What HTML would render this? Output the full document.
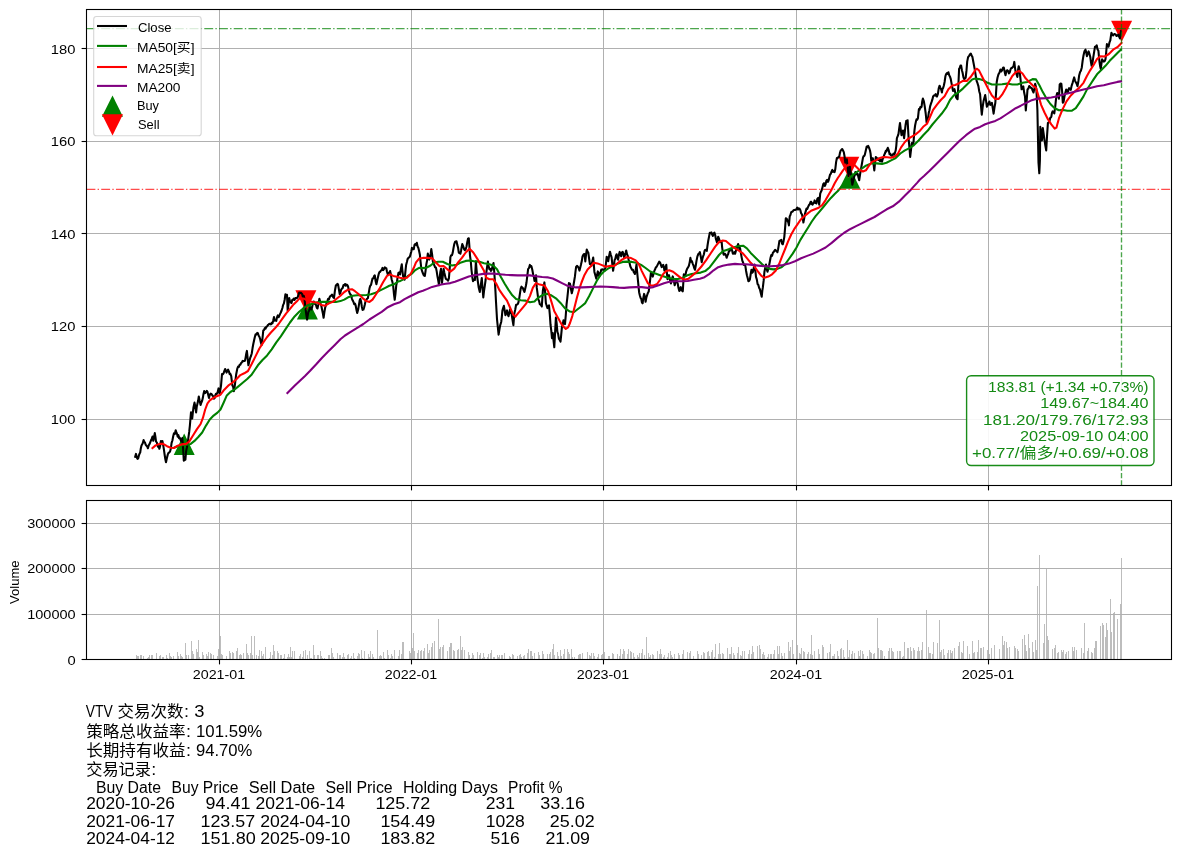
<!DOCTYPE html>
<html lang="zh"><head><meta charset="utf-8"><title>VTV MA Strategy</title>
<style>html,body{margin:0;padding:0;background:#fff}svg{display:block}text{font-family:"Liberation Sans","Noto Sans CJK SC",sans-serif;white-space:pre}</style></head><body>
<svg width="1180" height="857" viewBox="0 0 1180 857">
<rect width="1180" height="857" fill="#fff"/>
<defs><clipPath id="c1"><rect x="86.5" y="9.5" width="1085.0" height="476.0"/></clipPath><clipPath id="c2"><rect x="86.5" y="500.5" width="1085.0" height="159.0"/></clipPath></defs>
<g clip-path="url(#c1)">
<path d="M184.2 433.6 L173.7 454.9 L194.7 454.9 Z" fill="#008000"/>
<path d="M307.4 298.3 L296.9 319.6 L317.9 319.6 Z" fill="#008000"/>
<path d="M849.8 167.4 L839.3 188.7 L860.3 188.7 Z" fill="#008000"/>
<path d="M305.9 311.6 L295.4 290.3 L316.4 290.3 Z" fill="#ff0000"/>
<path d="M848.8 178.1 L838.3 156.8 L859.3 156.8 Z" fill="#ff0000"/>
<path d="M1121.6 42.1 L1111.1 20.8 L1132.1 20.8 Z" fill="#ff0000"/>
<line x1="219.5" y1="9.5" x2="219.5" y2="485.5" stroke="#b0b0b0" stroke-width="1" shape-rendering="crispEdges"/>
<line x1="411.5" y1="9.5" x2="411.5" y2="485.5" stroke="#b0b0b0" stroke-width="1" shape-rendering="crispEdges"/>
<line x1="603.5" y1="9.5" x2="603.5" y2="485.5" stroke="#b0b0b0" stroke-width="1" shape-rendering="crispEdges"/>
<line x1="796.5" y1="9.5" x2="796.5" y2="485.5" stroke="#b0b0b0" stroke-width="1" shape-rendering="crispEdges"/>
<line x1="988.5" y1="9.5" x2="988.5" y2="485.5" stroke="#b0b0b0" stroke-width="1" shape-rendering="crispEdges"/>
<line x1="86.5" y1="48.5" x2="1171.5" y2="48.5" stroke="#b0b0b0" stroke-width="1" shape-rendering="crispEdges"/>
<line x1="86.5" y1="141.5" x2="1171.5" y2="141.5" stroke="#b0b0b0" stroke-width="1" shape-rendering="crispEdges"/>
<line x1="86.5" y1="233.5" x2="1171.5" y2="233.5" stroke="#b0b0b0" stroke-width="1" shape-rendering="crispEdges"/>
<line x1="86.5" y1="326.5" x2="1171.5" y2="326.5" stroke="#b0b0b0" stroke-width="1" shape-rendering="crispEdges"/>
<line x1="86.5" y1="419.5" x2="1171.5" y2="419.5" stroke="#b0b0b0" stroke-width="1" shape-rendering="crispEdges"/>
<path d="M134.9 457.7 L136.0 453.9 L136.8 457.5 L137.5 458.9 L138.2 458.2 L138.9 455.4 L139.5 453.8 L140.2 452.6 L140.8 448.4 L141.5 445.4 L142.2 444.2 L142.9 442.8 L143.6 440.1 L144.3 442.1 L145.0 442.4 L145.6 444.6 L146.4 445.7 L147.2 446.4 L147.9 448.3 L148.7 445.4 L149.4 444.3 L150.2 442.3 L151.0 440.3 L151.7 438.9 L152.5 436.6 L153.3 440.8 L154.0 437.1 L154.8 433.1 L155.4 436.6 L156.0 441.5 L156.9 442.7 L157.9 446.8 L158.6 446.4 L159.4 448.8 L160.1 446.3 L160.9 441.0 L161.7 441.9 L162.4 441.0 L163.2 445.2 L164.0 450.2 L164.6 454.5 L165.3 459.0 L166.0 462.2 L166.9 458.0 L167.8 454.4 L168.6 452.8 L169.3 452.5 L170.1 451.3 L170.8 448.8 L171.6 442.9 L172.4 440.5 L173.1 436.7 L173.9 433.4 L174.8 434.0 L175.7 430.2 L176.4 432.5 L177.1 434.1 L177.7 436.8 L178.4 435.2 L179.0 438.1 L179.7 437.6 L180.5 439.6 L181.2 441.4 L182.3 438.0 L183.1 448.4 L183.8 460.7 L184.6 460.2 L185.4 459.7 L186.1 451.2 L186.9 447.4 L187.7 443.1 L188.4 437.7 L189.2 431.9 L189.9 425.4 L191.0 412.3 L191.6 415.4 L192.2 418.6 L192.8 412.8 L193.5 407.2 L194.5 402.6 L195.3 406.5 L196.1 412.4 L196.8 406.5 L197.6 403.1 L198.2 400.3 L198.8 396.5 L199.7 401.0 L200.6 404.9 L201.4 402.5 L202.2 400.5 L202.8 398.1 L203.5 393.9 L204.2 391.1 L205.1 393.1 L206.0 392.1 L206.8 390.8 L207.5 391.9 L208.3 395.3 L209.0 397.9 L209.8 394.8 L210.6 393.6 L211.5 394.0 L212.4 395.5 L213.2 396.3 L213.9 398.7 L214.6 398.2 L215.3 395.4 L215.9 393.8 L216.7 394.0 L217.5 392.7 L218.5 388.4 L219.1 391.8 L219.7 393.4 L220.4 389.5 L221.0 385.8 L222.0 374.0 L222.8 374.2 L223.6 373.3 L224.3 371.1 L225.1 369.0 L225.9 370.7 L226.6 372.6 L227.4 370.7 L228.1 369.7 L228.9 371.4 L229.7 374.3 L230.4 373.9 L231.2 376.0 L231.8 380.9 L232.4 385.5 L233.1 386.7 L233.8 391.2 L234.4 388.6 L235.0 384.1 L235.6 379.0 L236.2 374.2 L237.3 368.6 L238.1 366.6 L238.8 367.0 L239.6 364.9 L240.3 364.8 L241.1 363.0 L241.9 362.4 L242.6 360.9 L243.4 361.1 L244.2 361.0 L244.9 360.9 L245.6 357.6 L246.3 353.5 L246.9 350.9 L247.7 358.8 L248.4 365.3 L249.4 361.1 L250.3 357.5 L251.0 356.0 L251.8 353.2 L252.6 347.8 L253.3 344.0 L254.1 340.2 L254.9 336.7 L255.6 334.4 L256.4 334.4 L257.2 332.9 L257.9 333.2 L258.7 335.7 L259.4 336.8 L260.2 339.3 L261.0 342.9 L261.7 344.9 L262.5 338.1 L263.3 330.4 L264.0 330.1 L264.8 328.1 L265.6 328.7 L266.3 326.7 L267.1 326.5 L267.9 325.0 L268.6 324.7 L269.4 323.7 L270.1 323.9 L270.9 324.5 L271.7 322.8 L272.4 323.4 L273.2 320.6 L274.0 317.1 L274.7 320.6 L275.5 320.2 L276.3 320.8 L277.0 317.3 L277.8 315.4 L278.6 317.2 L279.3 315.8 L280.1 313.9 L280.8 312.5 L281.6 310.5 L282.4 308.0 L283.1 305.1 L283.9 303.4 L284.7 299.5 L285.4 294.3 L286.2 294.9 L287.0 294.8 L287.7 310.9 L288.5 304.7 L289.2 298.0 L290.0 301.4 L290.8 302.4 L291.5 303.1 L292.3 299.8 L293.1 299.9 L293.8 298.5 L294.6 299.9 L295.4 298.1 L296.1 298.1 L296.9 298.2 L297.7 297.1 L298.4 294.9 L299.2 292.6 L299.9 293.1 L300.7 292.7 L301.5 293.3 L302.2 294.2 L303.0 297.4 L303.8 295.9 L304.5 298.9 L305.6 309.4 L306.4 315.3 L307.1 319.7 L307.7 315.7 L308.3 312.1 L309.1 310.8 L309.9 307.7 L310.6 307.7 L311.4 309.5 L312.2 306.9 L312.9 303.3 L313.7 301.5 L314.5 303.5 L315.2 304.1 L316.0 304.9 L316.8 307.8 L317.5 308.5 L318.4 304.2 L319.4 298.8 L320.0 301.1 L320.7 303.8 L321.3 305.8 L322.1 309.7 L322.9 313.6 L323.6 317.8 L324.4 312.0 L325.2 307.5 L325.9 305.4 L326.7 302.4 L327.5 300.6 L328.2 298.7 L329.0 299.3 L329.7 297.1 L330.5 295.9 L331.3 295.5 L332.0 294.5 L332.7 296.2 L333.4 297.5 L334.0 298.0 L334.9 290.8 L335.9 285.2 L336.6 285.1 L337.4 283.8 L338.1 284.6 L338.9 289.4 L339.7 294.0 L340.4 292.8 L341.2 289.6 L342.0 288.6 L342.7 287.9 L343.5 285.1 L344.3 285.1 L345.0 284.0 L345.8 285.7 L346.6 284.5 L347.3 285.1 L348.1 286.6 L348.8 290.3 L349.6 293.0 L350.4 294.4 L351.1 295.2 L351.9 298.6 L352.7 300.6 L353.4 301.8 L354.2 304.3 L355.0 303.6 L355.7 305.7 L356.5 310.0 L357.2 313.0 L358.2 309.4 L359.1 303.9 L359.7 300.1 L360.3 298.9 L361.1 301.5 L361.8 306.4 L362.6 309.9 L363.4 309.6 L364.1 307.5 L364.9 304.2 L365.7 300.4 L366.4 299.6 L367.2 298.6 L367.9 298.2 L368.7 293.3 L369.5 288.3 L370.2 285.9 L371.0 284.9 L371.8 281.5 L372.5 278.6 L373.3 278.5 L374.1 276.0 L374.8 275.4 L375.6 281.1 L376.4 284.2 L377.1 281.1 L377.9 277.5 L378.6 274.4 L379.4 272.2 L380.2 271.8 L380.9 270.4 L381.7 270.2 L382.5 267.9 L383.2 270.1 L384.0 269.1 L384.8 267.4 L385.5 267.9 L386.3 268.3 L387.0 271.8 L387.8 274.4 L388.6 274.5 L389.3 272.4 L390.1 271.0 L390.9 274.6 L391.6 279.2 L392.4 281.9 L393.2 286.1 L393.9 293.5 L394.7 299.8 L395.5 293.5 L396.2 285.8 L397.0 281.5 L397.7 276.7 L398.5 272.7 L399.3 272.5 L400.0 274.5 L400.9 268.8 L401.8 264.3 L402.4 270.6 L403.1 276.3 L403.8 277.4 L404.6 279.7 L405.3 272.7 L406.1 265.0 L406.9 262.0 L407.6 259.0 L408.4 258.0 L409.2 257.3 L409.9 256.5 L410.6 253.9 L411.3 251.7 L411.9 247.8 L412.8 249.2 L413.8 249.2 L414.5 244.9 L415.3 244.0 L416.0 244.9 L416.8 242.8 L417.6 246.4 L418.3 247.7 L419.1 251.0 L419.9 254.8 L420.6 262.2 L421.4 269.0 L422.2 271.3 L422.9 273.3 L423.8 275.3 L424.8 276.0 L425.5 271.3 L426.3 264.5 L427.0 260.9 L427.8 253.6 L428.6 257.2 L429.3 259.6 L430.0 256.9 L430.7 253.5 L431.3 249.1 L432.1 254.3 L432.9 261.7 L433.6 264.1 L434.4 265.3 L435.1 267.3 L435.9 267.5 L436.7 271.4 L437.4 276.1 L438.2 280.4 L439.0 285.1 L439.6 278.3 L440.3 272.1 L441.0 268.7 L442.0 282.9 L442.8 276.0 L443.6 268.8 L444.3 272.5 L445.1 275.9 L445.8 278.8 L446.6 279.5 L447.4 279.5 L448.1 280.6 L448.9 278.4 L449.7 268.6 L450.4 257.1 L451.2 255.2 L452.0 255.3 L452.7 252.8 L453.5 248.1 L454.2 244.4 L455.0 242.0 L455.8 241.5 L456.5 241.3 L457.3 244.9 L458.1 247.8 L458.8 252.6 L459.6 253.2 L460.4 253.7 L461.0 251.0 L461.7 246.9 L462.3 244.0 L463.3 246.7 L464.2 249.4 L464.9 250.2 L465.7 249.2 L466.5 246.5 L467.2 242.4 L468.0 238.7 L468.8 238.3 L469.4 246.5 L470.0 255.6 L470.8 261.5 L471.5 270.0 L472.3 277.0 L473.0 281.2 L474.0 279.6 L474.9 280.0 L475.9 261.4 L476.6 270.1 L477.2 276.8 L477.9 281.9 L478.7 287.6 L479.8 292.0 L480.4 287.7 L481.1 282.8 L481.8 278.0 L482.5 287.6 L483.3 297.5 L484.0 291.2 L484.8 285.8 L485.6 280.0 L486.3 272.9 L487.1 266.8 L487.9 261.5 L488.6 265.9 L489.4 269.2 L490.2 268.9 L490.9 270.9 L491.7 269.8 L492.6 266.1 L493.5 263.0 L494.1 270.1 L494.7 278.4 L495.4 290.4 L496.0 301.8 L497.0 319.2 L497.8 327.0 L498.6 334.6 L499.3 330.4 L500.1 325.6 L501.2 322.0 L501.8 317.1 L502.4 310.6 L503.1 308.1 L503.9 305.8 L504.7 310.6 L505.4 315.2 L506.2 312.1 L507.0 310.4 L507.7 314.3 L508.5 316.2 L509.3 312.9 L510.0 309.5 L510.8 313.0 L511.6 313.8 L512.5 319.8 L513.4 325.2 L514.3 313.7 L515.2 309.7 L516.1 304.8 L516.9 304.7 L517.7 304.2 L518.4 302.5 L519.2 298.6 L520.0 293.2 L520.7 288.7 L521.5 286.7 L522.2 287.4 L523.0 288.3 L523.8 290.6 L524.5 291.9 L525.2 288.7 L525.9 285.8 L526.5 282.5 L527.3 275.8 L528.1 269.2 L529.0 268.0 L529.9 264.9 L530.7 266.6 L531.4 266.2 L532.3 269.8 L533.3 275.3 L533.9 277.0 L534.5 280.9 L535.2 278.2 L536.0 275.2 L536.8 287.9 L537.5 293.1 L538.3 299.5 L539.1 301.0 L539.8 304.2 L540.5 304.7 L541.1 305.2 L541.8 306.5 L542.9 290.4 L543.6 286.4 L544.4 282.4 L545.2 293.5 L545.9 303.3 L546.7 305.8 L547.5 308.1 L548.2 306.4 L549.0 305.3 L549.8 314.3 L550.5 324.5 L551.3 330.9 L552.0 338.2 L552.8 333.1 L553.6 341.1 L554.3 347.3 L555.1 332.4 L555.9 317.6 L556.6 322.9 L557.4 331.8 L558.2 334.3 L558.9 338.6 L559.7 339.8 L560.5 341.7 L561.2 334.9 L562.0 326.3 L562.7 324.7 L563.5 320.3 L564.3 322.4 L565.0 324.1 L565.8 315.0 L566.6 303.8 L567.3 298.1 L568.1 290.5 L568.9 283.1 L570.0 283.7 L570.9 288.8 L571.8 293.3 L572.6 289.9 L573.4 285.7 L574.1 281.5 L574.9 276.7 L575.5 271.5 L576.1 266.9 L577.0 265.8 L577.9 266.7 L578.7 268.1 L579.5 270.6 L580.2 267.7 L581.0 264.6 L581.8 261.1 L582.5 256.4 L583.2 255.1 L583.9 254.0 L584.5 254.0 L585.3 261.4 L586.0 254.9 L586.8 249.5 L587.6 251.7 L588.3 252.7 L589.1 258.5 L589.9 264.0 L590.6 264.4 L591.4 265.8 L592.3 261.6 L593.2 257.5 L593.8 264.2 L594.4 271.9 L595.4 275.6 L596.3 278.7 L597.0 275.3 L597.8 271.4 L598.6 273.9 L599.3 276.4 L600.0 273.3 L600.7 272.1 L601.3 269.5 L602.1 269.5 L602.9 269.4 L603.6 270.5 L604.5 270.8 L605.5 267.4 L606.1 262.0 L606.7 256.7 L607.4 258.4 L608.2 261.2 L609.1 256.0 L610.0 251.8 L610.8 254.8 L611.6 257.4 L612.3 264.1 L613.1 270.8 L613.9 265.9 L614.6 260.0 L615.3 258.9 L615.9 256.0 L616.6 254.2 L617.4 257.6 L618.1 259.8 L618.9 254.7 L619.7 251.9 L620.4 254.5 L621.2 256.2 L622.0 252.3 L622.7 251.9 L623.5 254.6 L624.2 257.4 L624.9 255.1 L625.6 252.8 L626.2 250.5 L627.0 254.2 L627.8 255.9 L628.7 260.0 L629.6 263.3 L630.4 266.6 L631.1 267.9 L632.0 269.7 L633.0 269.7 L633.6 271.8 L634.3 272.8 L634.9 274.0 L635.7 270.2 L636.5 264.3 L637.2 272.5 L638.0 280.8 L639.1 292.2 L639.8 295.3 L640.6 298.0 L641.3 299.0 L641.9 302.4 L642.6 303.3 L643.3 298.3 L644.1 293.9 L644.9 296.5 L645.6 301.8 L646.4 297.3 L647.2 295.0 L647.9 292.9 L648.7 291.5 L649.8 282.6 L650.4 277.7 L651.0 272.2 L651.9 274.4 L652.8 276.6 L653.6 273.5 L654.4 270.7 L655.0 269.6 L655.7 267.7 L656.3 267.1 L657.0 266.0 L657.7 264.6 L658.3 263.4 L659.2 261.7 L660.2 262.8 L660.9 264.8 L661.7 267.1 L662.5 265.8 L663.2 264.8 L663.8 266.6 L664.4 270.6 L665.4 268.6 L666.3 264.7 L666.9 273.2 L667.5 279.2 L668.3 276.8 L669.0 275.1 L669.9 279.8 L670.9 283.4 L671.8 280.2 L672.7 276.4 L673.4 278.9 L674.0 281.8 L674.7 285.2 L675.4 282.7 L676.2 279.5 L677.0 281.6 L677.7 283.5 L678.5 288.0 L679.3 290.9 L680.0 289.0 L680.8 287.2 L681.5 290.5 L682.1 289.8 L682.8 291.3 L683.8 274.4 L684.6 275.9 L685.4 275.2 L686.1 271.7 L686.9 269.3 L687.6 268.1 L688.2 267.1 L688.9 265.8 L689.7 262.1 L690.4 257.9 L691.2 261.7 L691.9 261.2 L692.7 263.6 L693.5 265.5 L694.2 268.0 L695.0 269.7 L695.8 265.2 L696.5 260.9 L697.4 256.4 L698.4 254.0 L699.1 253.6 L699.9 252.1 L700.8 256.7 L701.7 262.2 L702.5 258.5 L703.3 255.8 L703.9 254.3 L704.6 250.8 L705.2 249.7 L706.0 249.9 L706.8 250.9 L707.5 245.6 L708.3 240.5 L709.1 236.4 L709.8 232.7 L710.6 233.2 L711.4 232.4 L712.1 234.4 L712.9 235.9 L713.6 233.5 L714.4 232.6 L715.2 235.0 L715.9 239.0 L717.0 242.3 L717.6 240.1 L718.2 236.7 L719.1 239.0 L720.1 242.1 L720.8 241.7 L721.6 241.4 L722.2 247.8 L722.8 251.8 L723.7 254.8 L724.6 253.6 L725.3 254.1 L726.0 255.6 L726.6 257.8 L727.4 255.6 L728.2 254.1 L728.8 251.4 L729.5 251.3 L730.1 248.8 L731.1 249.8 L732.0 250.1 L732.9 253.8 L733.8 253.5 L734.5 252.2 L735.1 253.8 L735.8 251.2 L736.6 249.2 L737.3 246.5 L738.1 244.1 L738.9 246.2 L739.6 250.4 L740.0 248.0 L740.8 252.4 L741.5 256.6 L742.3 260.6 L743.1 262.5 L743.8 264.9 L744.6 264.8 L745.3 265.6 L746.1 271.0 L746.9 275.2 L747.6 277.8 L748.4 281.2 L749.2 280.8 L749.9 279.3 L750.7 274.0 L751.5 269.7 L752.2 272.8 L753.0 271.9 L753.8 267.8 L754.5 264.5 L755.3 270.1 L756.0 276.9 L756.8 279.4 L757.6 284.1 L758.3 284.7 L759.1 287.7 L759.9 289.3 L760.6 292.2 L761.7 296.8 L762.3 290.9 L762.9 287.2 L763.7 280.2 L764.4 272.0 L765.2 268.0 L766.0 264.6 L766.7 268.9 L767.5 271.8 L768.3 268.8 L769.0 266.0 L769.8 261.8 L770.6 257.5 L771.3 255.0 L772.1 255.8 L772.9 252.8 L773.6 252.1 L774.4 250.8 L775.1 249.8 L775.9 250.7 L776.7 250.7 L777.4 252.2 L778.1 249.2 L778.8 244.8 L779.4 240.9 L780.3 240.6 L781.3 239.9 L782.0 243.6 L782.8 244.3 L783.6 240.9 L784.3 237.1 L785.1 227.9 L785.8 218.2 L786.8 218.8 L787.7 221.2 L788.3 222.3 L788.9 225.4 L789.7 216.4 L790.4 215.0 L791.2 212.2 L792.0 211.8 L792.7 211.5 L793.5 210.2 L794.2 210.0 L795.0 209.9 L795.8 209.7 L796.5 208.9 L797.3 207.7 L798.1 209.6 L798.8 208.4 L799.6 208.8 L800.4 210.2 L801.1 213.2 L801.9 214.3 L802.7 217.7 L803.4 222.5 L804.2 218.3 L804.9 214.1 L805.7 211.4 L806.5 208.6 L807.2 209.0 L808.0 207.2 L808.8 205.3 L809.7 204.3 L810.6 201.8 L811.3 201.9 L811.9 204.2 L812.6 204.7 L813.2 203.1 L813.9 203.1 L814.6 200.4 L815.5 202.9 L816.4 203.5 L817.3 198.9 L818.2 197.8 L819.2 204.7 L820.2 193.7 L821.0 191.7 L821.8 190.0 L822.5 187.2 L823.3 183.9 L824.0 183.2 L824.8 186.0 L825.6 184.3 L826.3 180.9 L827.1 179.8 L827.9 181.9 L828.6 180.6 L829.3 177.6 L830.0 174.7 L830.8 173.8 L831.5 171.6 L832.3 169.9 L833.1 171.8 L833.8 171.1 L834.6 172.1 L835.3 169.1 L836.1 162.1 L836.9 158.0 L837.6 158.3 L838.4 157.0 L839.2 156.7 L839.9 153.1 L840.7 150.5 L841.5 149.8 L842.2 149.0 L843.0 150.5 L843.8 152.1 L844.5 156.0 L845.3 162.6 L846.0 161.7 L846.8 159.2 L847.7 167.8 L848.5 176.0 L849.2 170.6 L849.9 166.7 L850.7 172.9 L851.5 178.9 L852.3 184.7 L853.0 181.9 L853.8 178.6 L854.6 175.2 L855.4 172.0 L856.2 174.4 L856.9 174.0 L857.7 173.9 L858.5 177.5 L859.2 180.3 L860.0 174.8 L860.7 170.7 L861.3 167.3 L862.1 162.8 L862.9 158.1 L863.5 156.3 L864.2 156.1 L864.8 154.8 L865.8 150.6 L866.7 146.6 L867.4 147.2 L868.2 145.8 L869.1 147.9 L870.0 150.5 L870.6 153.6 L871.3 160.9 L872.0 159.1 L872.8 158.2 L873.6 164.4 L874.3 170.4 L875.1 162.4 L875.8 157.1 L876.6 157.8 L877.4 158.3 L878.1 159.8 L878.9 158.6 L879.7 161.0 L880.4 161.1 L881.2 159.4 L882.0 161.7 L882.7 159.1 L883.5 157.4 L884.2 155.0 L885.0 153.3 L885.8 150.9 L886.4 151.3 L887.1 149.4 L887.8 147.8 L888.7 150.2 L889.6 154.3 L890.4 153.8 L891.1 155.6 L891.9 155.9 L892.7 155.1 L893.4 153.7 L894.2 154.6 L894.9 153.0 L895.7 150.3 L896.3 145.8 L896.9 138.1 L897.7 136.2 L898.5 133.8 L899.2 128.4 L900.0 123.0 L900.8 129.9 L901.5 135.1 L902.3 133.1 L903.0 130.5 L904.1 138.1 L904.9 131.1 L905.6 124.7 L906.3 120.8 L907.0 121.5 L907.6 120.3 L908.7 139.8 L909.5 148.2 L910.2 157.0 L911.0 149.8 L911.8 143.0 L912.5 144.8 L913.3 144.9 L914.4 130.9 L915.1 125.5 L915.9 121.6 L916.5 119.4 L917.2 119.7 L917.9 118.3 L918.9 109.1 L919.6 109.7 L920.3 107.0 L920.9 107.5 L921.6 106.7 L922.2 101.5 L922.9 98.6 L923.8 101.0 L924.7 106.1 L925.7 113.5 L926.6 122.5 L927.3 119.1 L928.1 117.6 L928.8 112.6 L929.4 110.5 L930.1 106.3 L930.9 103.9 L931.6 101.9 L932.4 99.4 L933.1 96.4 L933.9 95.6 L934.8 95.4 L935.7 94.0 L936.4 96.2 L937.0 96.5 L937.9 93.8 L938.8 88.0 L939.6 85.7 L940.3 87.6 L941.1 89.3 L941.9 92.5 L942.5 88.8 L943.2 87.8 L943.8 85.7 L944.6 82.0 L945.4 76.3 L946.1 74.1 L946.9 73.2 L947.7 73.8 L948.4 72.3 L949.2 75.3 L950.0 76.7 L950.7 78.8 L951.5 83.1 L952.2 86.8 L953.0 90.9 L953.8 90.8 L954.5 89.2 L955.3 92.8 L956.1 97.2 L956.8 98.4 L957.6 99.2 L958.4 84.5 L959.1 68.8 L959.8 67.7 L960.5 65.6 L961.1 65.5 L961.9 70.2 L962.6 72.8 L963.4 77.1 L964.2 79.2 L964.9 78.5 L965.7 77.7 L966.5 70.4 L967.2 61.6 L968.1 57.1 L969.1 55.8 L970.0 54.4 L970.9 53.6 L971.7 55.8 L972.4 56.9 L973.2 61.2 L973.9 64.9 L975.0 70.9 L975.8 76.1 L976.7 81.2 L977.5 83.2 L978.4 86.1 L979.2 91.2 L980.1 94.3 L980.9 104.8 L981.8 114.7 L982.6 107.4 L983.5 101.3 L984.3 98.2 L985.2 95.1 L986.0 100.4 L986.9 106.8 L987.7 105.3 L988.6 103.2 L989.4 101.5 L990.3 104.9 L991.1 104.0 L991.9 102.8 L992.8 108.3 L993.6 113.7 L994.5 107.3 L995.3 103.0 L996.0 93.7 L996.7 82.3 L997.5 77.7 L998.4 74.4 L999.1 73.4 L999.7 71.9 L1000.4 69.5 L1001.3 71.5 L1002.1 70.2 L1003.0 67.8 L1003.8 67.5 L1004.7 71.9 L1005.5 75.3 L1006.4 71.1 L1007.2 70.2 L1008.1 71.1 L1008.9 73.4 L1009.7 72.5 L1010.6 69.2 L1011.3 68.1 L1011.9 68.0 L1012.6 67.3 L1013.5 66.2 L1014.3 61.9 L1015.0 67.8 L1015.7 72.4 L1016.5 74.2 L1017.4 76.9 L1018.1 69.6 L1018.7 66.2 L1019.3 68.6 L1019.9 73.5 L1020.8 81.8 L1021.6 89.3 L1022.5 88.2 L1023.3 86.4 L1024.2 92.8 L1025.0 96.5 L1025.8 110.5 L1026.7 100.1 L1027.5 89.5 L1028.4 88.6 L1029.2 86.0 L1030.1 86.9 L1030.9 87.8 L1031.8 88.2 L1032.6 90.6 L1033.5 92.5 L1034.3 89.3 L1035.2 83.7 L1035.8 86.4 L1036.4 89.3 L1037.4 110.1 L1038.1 143.9 L1038.5 162.7 L1039.3 173.3 L1039.9 160.5 L1040.3 126.8 L1041.1 134.0 L1041.9 140.5 L1042.8 128.0 L1043.6 133.5 L1044.5 140.3 L1045.3 145.3 L1046.2 150.4 L1047.0 136.5 L1047.9 123.1 L1048.7 122.4 L1049.6 120.5 L1050.4 117.6 L1051.3 116.9 L1051.9 113.2 L1052.6 111.4 L1053.5 112.2 L1054.3 113.3 L1055.2 106.9 L1056.0 99.2 L1056.6 95.3 L1057.2 93.0 L1058.1 95.3 L1058.9 98.7 L1059.7 84.4 L1060.6 83.5 L1061.4 84.0 L1062.1 91.3 L1062.8 102.6 L1063.6 101.9 L1064.5 96.2 L1065.3 93.0 L1066.2 89.5 L1067.0 90.6 L1067.9 92.9 L1068.5 89.4 L1069.1 88.2 L1069.9 89.3 L1070.8 89.8 L1071.6 85.9 L1072.5 83.1 L1073.3 80.3 L1074.2 77.4 L1075.0 80.6 L1075.8 82.3 L1076.7 83.8 L1077.5 86.2 L1078.4 81.0 L1079.2 75.2 L1080.1 72.0 L1080.9 70.7 L1081.8 67.4 L1082.6 61.0 L1083.5 55.4 L1084.3 52.0 L1084.9 50.5 L1085.5 49.7 L1086.2 52.0 L1086.9 56.1 L1087.7 53.6 L1088.6 51.4 L1089.4 53.7 L1090.3 57.0 L1090.9 61.7 L1091.6 65.8 L1092.5 62.8 L1093.3 57.1 L1094.2 51.6 L1095.0 46.7 L1095.8 46.6 L1096.7 45.3 L1097.5 49.2 L1098.4 50.7 L1099.0 57.2 L1099.6 62.6 L1100.2 66.6 L1100.8 69.1 L1101.4 64.0 L1102.1 59.4 L1103.0 60.6 L1103.8 61.7 L1104.7 61.2 L1105.5 59.1 L1106.2 52.2 L1106.9 44.0 L1107.7 45.1 L1108.6 46.6 L1109.4 42.7 L1110.3 40.3 L1110.8 36.8 L1111.4 32.8 L1112.3 34.8 L1113.1 35.5 L1114.0 34.3 L1114.8 34.0 L1115.7 34.6 L1116.5 36.0 L1117.4 35.6 L1118.2 34.7 L1119.1 36.5 L1119.9 38.4 L1120.5 34.2 L1121.1 30.7 L1121.6 30.6" fill="none" stroke="#000" stroke-width="2.08" stroke-linejoin="round" stroke-linecap="butt"/>
<path d="M173.9 447.7 L177.7 446.2 L182.3 445.1 L186.1 444.7 L190.7 443.9 L194.5 440.9 L198.3 437.0 L202.2 432.5 L206.0 425.6 L209.8 419.5 L213.6 415.6 L217.5 412.6 L220.5 409.5 L223.6 402.7 L226.6 395.8 L230.4 392.0 L234.3 389.7 L238.1 386.6 L242.7 382.8 L247.2 379.0 L251.8 374.4 L254.1 371.0 L257.9 365.3 L262.5 360.0 L267.1 355.4 L271.7 349.3 L276.3 342.4 L280.8 336.3 L285.4 329.4 L290.0 322.5 L294.6 316.4 L299.2 311.8 L303.8 308.0 L308.3 304.9 L312.9 303.4 L317.5 302.3 L322.1 301.9 L326.7 301.9 L331.3 301.9 L335.9 301.9 L340.4 301.1 L344.3 299.6 L348.1 297.3 L352.7 295.8 L357.2 295.3 L361.8 295.3 L366.4 295.0 L371.0 294.2 L375.6 292.7 L380.2 290.4 L384.8 288.1 L389.3 285.8 L393.9 284.3 L398.5 281.3 L400.0 281.2 L403.8 279.2 L407.6 276.2 L411.5 273.9 L415.3 270.1 L419.1 267.8 L422.9 268.1 L426.7 267.5 L430.6 265.5 L434.4 262.4 L438.2 261.7 L442.8 261.7 L447.4 264.0 L452.0 265.5 L456.5 264.7 L461.1 262.4 L465.7 260.9 L470.3 260.5 L474.9 261.4 L479.5 261.7 L484.0 263.2 L488.6 264.0 L493.2 265.5 L497.0 269.3 L500.9 277.0 L504.7 283.8 L508.5 289.9 L512.3 295.3 L516.1 299.1 L520.7 300.3 L525.3 300.6 L529.9 302.2 L534.5 301.4 L538.3 297.6 L542.1 295.3 L546.7 293.8 L551.3 295.3 L555.9 298.3 L560.5 302.9 L565.0 308.3 L569.6 311.3 L570.0 311.6 L573.8 312.3 L577.6 309.3 L581.5 306.2 L585.3 303.1 L589.1 296.3 L592.9 288.6 L596.7 281.0 L600.6 274.9 L604.4 271.1 L609.0 268.0 L613.6 265.7 L618.1 263.4 L622.7 261.9 L627.3 261.6 L631.9 261.9 L636.5 262.7 L641.1 264.9 L645.6 268.0 L650.2 271.5 L654.8 273.3 L659.4 274.9 L664.0 276.4 L668.6 277.9 L673.1 278.7 L677.7 279.0 L682.3 277.9 L686.9 275.6 L691.5 274.1 L696.1 273.3 L700.7 272.6 L705.2 271.1 L709.8 267.2 L714.4 261.1 L719.0 255.0 L722.8 251.2 L727.4 249.7 L732.0 248.1 L736.6 246.6 L740.0 246.0 L743.1 245.7 L746.9 248.3 L750.7 252.9 L754.5 256.7 L758.3 260.5 L762.2 264.3 L766.0 267.4 L769.8 268.9 L773.6 269.4 L777.4 268.9 L781.3 267.4 L785.1 264.3 L788.9 259.0 L792.7 253.6 L796.5 247.5 L800.4 239.9 L804.2 233.8 L808.0 227.7 L811.8 221.5 L815.6 216.2 L819.5 211.6 L823.3 207.0 L827.1 202.4 L830.9 197.9 L834.7 194.0 L838.6 190.2 L841.6 186.4 L847.0 181.8 L851.4 176.0 L856.0 172.6 L860.6 169.5 L865.9 165.7 L871.3 163.4 L876.6 163.4 L882.0 163.9 L886.5 162.7 L891.1 160.4 L895.7 158.1 L900.3 153.5 L904.9 150.4 L909.5 148.1 L914.0 145.1 L918.6 140.5 L923.2 135.2 L927.8 130.6 L932.4 124.5 L937.0 119.1 L941.6 113.8 L946.1 107.7 L950.0 100.0 L953.8 95.4 L958.4 92.4 L962.9 88.6 L967.5 84.0 L972.1 79.4 L975.0 78.6 L979.2 79.1 L983.5 80.3 L987.7 82.8 L991.9 84.5 L997.0 84.5 L1002.1 84.2 L1007.2 83.6 L1012.3 84.5 L1017.4 84.5 L1022.5 82.8 L1027.5 81.9 L1032.6 79.1 L1036.0 79.4 L1039.4 85.3 L1042.8 92.1 L1046.2 98.1 L1050.4 104.0 L1054.7 108.2 L1058.9 110.3 L1063.1 109.9 L1067.4 110.8 L1071.6 110.8 L1075.8 108.2 L1079.2 103.1 L1083.5 96.4 L1086.9 89.6 L1090.3 84.5 L1093.6 79.4 L1097.0 74.3 L1101.3 70.1 L1105.5 65.8 L1109.7 60.8 L1114.0 56.5 L1118.2 52.3 L1121.6 48.9" fill="none" stroke="#008000" stroke-width="2.08" stroke-linejoin="round" stroke-linecap="butt"/>
<path d="M151.7 448.8 L155.6 445.4 L159.4 443.9 L163.2 443.9 L167.0 446.2 L170.8 447.7 L173.9 448.0 L177.7 445.7 L181.5 444.4 L186.1 443.9 L189.2 441.6 L193.0 435.5 L196.8 429.4 L200.6 424.0 L202.9 417.9 L205.2 409.5 L207.5 403.4 L209.8 400.4 L212.9 398.1 L216.7 396.2 L220.5 394.7 L224.3 389.7 L228.9 385.1 L232.7 382.5 L236.6 379.0 L240.4 375.1 L244.2 373.3 L248.0 371.0 L251.8 363.8 L255.6 356.1 L259.4 348.5 L263.3 342.4 L267.1 337.0 L270.9 332.5 L274.7 328.6 L278.6 324.0 L282.4 318.7 L286.2 313.3 L290.0 308.8 L293.8 304.2 L297.7 300.4 L299.9 298.1 L304.5 298.8 L308.3 301.1 L312.9 301.9 L317.5 302.7 L321.3 304.9 L325.2 305.7 L329.0 303.4 L332.8 301.9 L336.6 298.8 L340.4 295.8 L344.3 292.0 L348.1 289.7 L351.9 289.2 L355.0 291.2 L358.8 294.2 L362.6 298.1 L366.4 301.1 L369.5 301.9 L372.5 299.6 L375.6 295.0 L379.4 288.9 L383.2 282.0 L387.0 275.9 L390.1 274.4 L393.2 275.9 L397.0 276.7 L400.0 277.7 L403.1 278.5 L406.9 277.7 L410.7 273.9 L413.8 267.8 L416.0 262.4 L419.1 258.6 L422.9 257.9 L427.5 257.9 L432.1 258.3 L435.9 262.4 L439.7 266.3 L443.6 266.0 L447.4 269.3 L450.4 271.6 L454.2 268.6 L458.1 262.4 L461.9 257.9 L465.7 252.5 L469.5 248.7 L473.3 252.5 L477.2 258.6 L481.0 265.5 L484.0 270.8 L486.3 277.7 L489.4 279.2 L493.2 279.2 L496.3 283.8 L499.3 289.9 L503.1 295.3 L507.0 300.6 L510.0 307.5 L513.1 314.4 L515.4 316.7 L518.4 312.9 L522.2 308.3 L526.1 303.7 L529.9 296.1 L532.9 287.7 L536.0 283.1 L539.8 284.6 L544.4 285.4 L548.2 291.5 L551.3 301.4 L554.3 311.3 L558.2 318.2 L562.0 325.1 L565.8 328.9 L568.1 327.4 L570.0 323.0 L572.3 316.1 L574.6 307.0 L576.9 297.8 L579.2 289.4 L581.5 282.5 L584.5 274.9 L587.6 269.5 L590.6 266.5 L593.7 262.7 L597.5 263.4 L601.3 264.9 L605.9 266.8 L610.5 265.7 L614.3 266.0 L618.1 262.7 L622.0 259.6 L626.5 257.3 L631.1 258.1 L635.7 260.4 L638.8 264.2 L641.8 271.1 L644.9 277.2 L647.9 283.3 L650.2 285.3 L653.3 285.6 L657.1 284.0 L660.2 279.5 L663.2 274.1 L666.3 271.1 L669.3 270.3 L673.1 271.8 L677.0 274.9 L680.8 277.9 L684.6 279.8 L688.4 278.7 L692.2 275.6 L696.8 271.8 L701.4 266.5 L706.0 260.4 L710.6 253.5 L715.2 246.6 L719.0 242.0 L722.8 240.5 L725.9 241.0 L729.7 244.3 L733.5 247.4 L737.3 249.7 L740.0 251.3 L743.1 253.6 L746.9 258.2 L750.7 262.8 L754.5 266.6 L758.3 272.0 L761.4 275.8 L764.4 277.8 L768.3 276.6 L772.1 274.3 L775.9 270.4 L779.0 264.3 L782.0 256.7 L785.1 249.0 L788.1 241.4 L791.2 234.5 L794.2 229.2 L797.3 224.6 L800.4 220.0 L803.4 217.0 L807.2 213.9 L811.1 210.8 L814.9 209.3 L818.7 207.8 L822.5 204.7 L825.6 200.1 L828.6 194.8 L831.7 189.4 L834.7 183.3 L837.8 178.0 L839.2 176.0 L843.0 170.3 L846.8 165.7 L851.4 163.4 L855.2 165.7 L859.0 169.5 L862.9 171.5 L865.9 170.3 L869.0 165.7 L872.0 161.9 L875.8 160.4 L879.7 158.1 L883.5 157.0 L887.3 157.3 L891.1 157.8 L894.9 156.6 L898.0 153.5 L901.1 147.4 L904.9 142.0 L907.9 139.0 L911.8 136.7 L915.6 134.4 L919.4 131.3 L923.2 126.8 L927.0 123.7 L930.1 116.8 L933.1 109.9 L937.0 104.6 L940.8 100.0 L944.6 96.2 L948.4 89.3 L952.2 85.5 L955.3 85.0 L959.1 83.2 L962.9 80.9 L966.8 80.9 L970.6 77.1 L974.4 71.7 L975.0 70.1 L977.0 68.7 L979.1 70.6 L981.8 76.0 L985.2 82.8 L988.6 89.6 L991.9 95.5 L995.3 98.9 L998.7 98.9 L1002.1 94.7 L1005.5 88.7 L1008.9 81.9 L1012.3 76.0 L1015.7 72.3 L1019.1 70.9 L1022.5 73.5 L1025.8 78.6 L1029.2 81.9 L1032.6 85.3 L1036.0 87.9 L1038.6 96.4 L1041.1 104.8 L1044.5 112.5 L1047.9 119.2 L1051.3 124.3 L1054.7 128.6 L1056.4 127.7 L1058.9 118.4 L1062.3 109.9 L1066.5 101.4 L1070.8 95.5 L1075.0 91.3 L1079.2 87.9 L1083.5 82.8 L1086.9 76.0 L1090.3 70.1 L1093.6 65.0 L1097.0 59.1 L1100.4 56.2 L1104.7 56.5 L1108.9 54.0 L1113.1 49.7 L1117.4 47.2 L1120.8 43.8 L1122.1 42.1" fill="none" stroke="#ff0000" stroke-width="2.08" stroke-linejoin="round" stroke-linecap="butt"/>
<path d="M286.7 393.8 L294.6 385.8 L305.0 375.9 L309.9 371.0 L316.0 364.5 L322.1 357.7 L328.2 351.6 L334.3 345.4 L340.4 339.3 L345.0 335.5 L351.1 331.7 L357.2 327.9 L363.4 324.0 L369.5 319.5 L375.6 315.6 L381.7 311.8 L387.8 307.2 L393.9 304.2 L400.0 302.2 L404.6 299.1 L409.2 296.8 L413.8 294.5 L418.3 292.2 L422.9 290.7 L427.5 288.9 L432.1 286.9 L436.7 285.7 L441.3 284.6 L445.8 283.8 L450.4 283.1 L455.0 281.8 L459.6 280.0 L464.2 278.2 L468.8 276.5 L473.3 275.4 L477.9 274.7 L483.3 273.9 L488.6 273.6 L494.0 273.6 L499.3 274.2 L505.4 274.8 L511.6 275.1 L517.7 275.4 L523.8 275.4 L529.9 275.4 L536.0 276.2 L542.1 277.0 L548.2 277.4 L552.8 278.5 L557.4 280.8 L562.0 283.1 L566.6 285.4 L570.0 286.3 L576.1 287.4 L582.2 287.4 L588.3 287.1 L594.4 286.8 L600.6 286.6 L606.7 286.8 L612.8 287.1 L618.9 287.6 L624.2 287.9 L629.6 287.4 L635.7 287.1 L641.8 287.1 L647.9 287.9 L653.3 287.1 L658.6 285.3 L664.0 283.3 L669.3 281.8 L675.4 281.3 L681.6 281.3 L687.7 281.0 L693.8 279.8 L699.9 278.7 L704.5 277.2 L709.1 274.1 L713.6 270.3 L718.2 267.2 L722.8 265.7 L728.9 264.6 L735.0 263.9 L740.0 264.2 L746.1 264.3 L752.2 264.9 L758.3 265.6 L764.4 266.2 L770.6 266.2 L776.7 265.9 L782.8 265.1 L788.9 263.6 L795.0 261.3 L801.1 258.2 L807.2 255.9 L813.3 253.6 L819.5 250.6 L825.6 247.5 L831.7 242.9 L837.8 237.6 L843.9 233.0 L850.0 229.2 L856.1 226.1 L862.2 223.1 L868.4 220.0 L874.5 217.0 L880.6 213.1 L886.7 209.3 L892.8 206.3 L898.9 201.7 L905.0 195.6 L911.1 189.4 L917.3 182.6 L920.0 179.5 L924.0 176.0 L929.3 171.1 L935.4 165.0 L941.6 158.8 L947.7 152.7 L953.8 146.6 L959.9 140.5 L966.0 135.2 L972.1 130.6 L975.0 128.7 L980.1 126.9 L985.2 124.3 L990.3 122.6 L995.3 120.9 L1000.4 118.4 L1005.5 115.0 L1010.6 111.6 L1015.7 108.2 L1020.8 105.7 L1025.8 103.1 L1030.9 100.6 L1036.0 98.9 L1041.1 98.4 L1046.2 98.1 L1051.3 97.5 L1056.4 96.4 L1061.4 95.0 L1066.5 93.8 L1071.6 92.6 L1076.7 91.3 L1083.5 89.6 L1090.3 87.9 L1097.0 86.2 L1103.8 85.3 L1110.6 83.6 L1117.4 81.9 L1122.1 81.1" fill="none" stroke="#800080" stroke-width="2.08" stroke-linejoin="round" stroke-linecap="butt"/>
<line x1="86.5" y1="28.5" x2="1171.5" y2="28.5" stroke="#008000" stroke-opacity="0.7" stroke-width="1.25" stroke-dasharray="8.889 2.222 1.389 2.222"/>
<line x1="86.5" y1="189.3" x2="1171.5" y2="189.3" stroke="#ff0000" stroke-opacity="0.7" stroke-width="1.25" stroke-dasharray="8.889 2.222 1.389 2.222"/>
<line x1="1121.5" y1="485.5" x2="1121.5" y2="9.5" stroke="#008000" stroke-opacity="0.7" stroke-width="1.39" stroke-dasharray="5.139 2.222"/>
</g>
<rect x="86.5" y="9.5" width="1085.0" height="476.0" fill="none" stroke="#000" stroke-width="1.1"/>
<line x1="219.5" y1="485.5" x2="219.5" y2="490.4" stroke="#000" stroke-width="1.1"/>
<line x1="411.5" y1="485.5" x2="411.5" y2="490.4" stroke="#000" stroke-width="1.1"/>
<line x1="603.5" y1="485.5" x2="603.5" y2="490.4" stroke="#000" stroke-width="1.1"/>
<line x1="796.5" y1="485.5" x2="796.5" y2="490.4" stroke="#000" stroke-width="1.1"/>
<line x1="988.5" y1="485.5" x2="988.5" y2="490.4" stroke="#000" stroke-width="1.1"/>
<line x1="81.6" y1="48.5" x2="86.5" y2="48.5" stroke="#000" stroke-width="1.1"/>
<text x="75.4" y="53.9" font-size="12.5" text-anchor="end" textLength="24.6" lengthAdjust="spacingAndGlyphs">180</text>
<line x1="81.6" y1="141.5" x2="86.5" y2="141.5" stroke="#000" stroke-width="1.1"/>
<text x="75.4" y="145.9" font-size="12.5" text-anchor="end" textLength="24.6" lengthAdjust="spacingAndGlyphs">160</text>
<line x1="81.6" y1="233.5" x2="86.5" y2="233.5" stroke="#000" stroke-width="1.1"/>
<text x="75.4" y="238.9" font-size="12.5" text-anchor="end" textLength="24.6" lengthAdjust="spacingAndGlyphs">140</text>
<line x1="81.6" y1="326.5" x2="86.5" y2="326.5" stroke="#000" stroke-width="1.1"/>
<text x="75.4" y="330.9" font-size="12.5" text-anchor="end" textLength="24.6" lengthAdjust="spacingAndGlyphs">120</text>
<line x1="81.6" y1="419.5" x2="86.5" y2="419.5" stroke="#000" stroke-width="1.1"/>
<text x="75.4" y="423.9" font-size="12.5" text-anchor="end" textLength="24.6" lengthAdjust="spacingAndGlyphs">100</text>
<rect x="93.7" y="16.5" width="107.5" height="119.2" rx="2.8" fill="#fff" fill-opacity="0.8" stroke="#ccc" stroke-opacity="0.8" stroke-width="1.1"/>
<line x1="97" y1="26.0" x2="127" y2="26.0" stroke="#000" stroke-width="2.08"/>
<line x1="97" y1="45.9" x2="127" y2="45.9" stroke="#008000" stroke-width="2.08"/>
<line x1="97" y1="67.0" x2="127" y2="67.0" stroke="#ff0000" stroke-width="2.08"/>
<line x1="97" y1="85.9" x2="127" y2="85.9" stroke="#800080" stroke-width="2.08"/>
<path d="M112.5 95.4 L101.9 116.7 L123.0 116.7 Z" fill="#008000"/>
<path d="M112.5 135.6 L101.9 114.3 L123.0 114.3 Z" fill="#ff0000"/>
<text x="138.0" y="32.0" font-size="12.40" text-anchor="start" fill="#000" textLength="33.5" lengthAdjust="spacingAndGlyphs">Close</text>
<text x="137.0" y="51.9" font-size="12.40" text-anchor="start" fill="#000" textLength="57.5" lengthAdjust="spacingAndGlyphs">MA50[买]</text>
<text x="137.0" y="72.7" font-size="12.40" text-anchor="start" fill="#000" textLength="57.5" lengthAdjust="spacingAndGlyphs">MA25[卖]</text>
<text x="137.0" y="91.8" font-size="12.40" text-anchor="start" fill="#000" textLength="43.5" lengthAdjust="spacingAndGlyphs">MA200</text>
<text x="137.0" y="109.5" font-size="12.40" text-anchor="start" fill="#000" textLength="22.0" lengthAdjust="spacingAndGlyphs">Buy</text>
<text x="138.0" y="128.7" font-size="12.40" text-anchor="start" fill="#000" textLength="21.5" lengthAdjust="spacingAndGlyphs">Sell</text>
<rect x="966.6" y="375.7" width="187.4" height="89.8" rx="4.5" fill="#fff" fill-opacity="0.9" stroke="#008000" stroke-opacity="0.9" stroke-width="1.39"/>
<text x="1148.6" y="391.7" font-size="14.60" text-anchor="end" fill="#008000" textLength="160.6" lengthAdjust="spacingAndGlyphs" fill-opacity="0.92">183.81 (+1.34 +0.73%)</text>
<text x="1148.6" y="408.2" font-size="14.60" text-anchor="end" fill="#008000" textLength="108.4" lengthAdjust="spacingAndGlyphs" fill-opacity="0.92">149.67~184.40</text>
<text x="1148.6" y="424.6" font-size="14.60" text-anchor="end" fill="#008000" textLength="165.6" lengthAdjust="spacingAndGlyphs" fill-opacity="0.92">181.20/179.76/172.93</text>
<text x="1148.6" y="440.6" font-size="14.60" text-anchor="end" fill="#008000" textLength="128.6" lengthAdjust="spacingAndGlyphs" fill-opacity="0.92">2025-09-10 04:00</text>
<text x="1148.6" y="458.4" font-size="14.60" text-anchor="end" fill="#008000" textLength="176.6" lengthAdjust="spacingAndGlyphs" fill-opacity="0.92">+0.77/偏多/+0.69/+0.08</text>
<g clip-path="url(#c2)">
<path d="M136 660v-5h1v5zM137 660v-4h1v4zM138 660v-4h1v4zM140 660v-5h1v5zM141 660v-5h1v5zM143 660v-4h1v4zM147 660v-2h1v2zM148 660v-3h1v3zM149 660v-5h1v5zM151 660v-5h1v5zM152 660v-5h1v5zM156 660v-7h1v7zM159 660v-4h1v4zM160 660v-5h1v5zM162 660v-3h1v3zM163 660v-3h1v3zM166 660v-5h1v5zM167 660v-2h1v2zM169 660v-7h1v7zM170 660v-4h1v4zM171 660v-3h1v3zM173 660v-4h1v4zM177 660v-8h1v8zM178 660v-4h1v4zM180 660v-6h1v6zM181 660v-4h1v4zM182 660v-3h1v3zM185 660v-17h1v17zM186 660v-5h1v5zM188 660v-5h1v5zM189 660v-1h1v1zM191 660v-19h1v19zM192 660v-9h1v9zM193 660v-6h1v6zM196 660v-11h1v11zM197 660v-8h1v8zM198 660v-20h1v20zM199 660v-3h1v3zM202 660v-8h1v8zM203 660v-5h1v5zM206 660v-6h1v6zM207 660v-4h1v4zM208 660v-8h1v8zM210 660v-7h1v7zM211 660v-6h1v6zM213 660v-5h1v5zM217 660v-4h1v4zM218 660v-11h1v11zM220 660v-24h1v24zM221 660v-6h1v6zM222 660v-5h1v5zM226 660v-4h1v4zM229 660v-9h1v9zM230 660v-7h1v7zM232 660v-8h1v8zM233 660v-7h1v7zM236 660v-9h1v9zM237 660v-12h1v12zM239 660v-5h1v5zM240 660v-6h1v6zM241 660v-5h1v5zM243 660v-7h1v7zM246 660v-16h1v16zM247 660v-7h1v7zM248 660v-5h1v5zM250 660v-7h1v7zM251 660v-24h1v24zM252 660v-5h1v5zM254 660v-24h1v24zM256 660v-5h1v5zM258 660v-4h1v4zM259 660v-10h1v10zM261 660v-9h1v9zM262 660v-4h1v4zM263 660v-6h1v6zM265 660v-13h1v13zM269 660v-2h1v2zM270 660v-8h1v8zM272 660v-5h1v5zM273 660v-15h1v15zM274 660v-9h1v9zM277 660v-9h1v9zM278 660v-7h1v7zM280 660v-5h1v5zM281 660v-5h1v5zM283 660v-2h1v2zM284 660v-6h1v6zM287 660v-3h1v3zM288 660v-6h1v6zM289 660v-3h1v3zM290 660v-13h1v13zM291 660v-3h1v3zM292 660v-9h1v9zM294 660v-9h1v9zM299 660v-4h1v4zM300 660v-6h1v6zM302 660v-3h1v3zM303 660v-9h1v9zM305 660v-10h1v10zM307 660v-5h1v5zM309 660v-9h1v9zM310 660v-2h1v2zM311 660v-2h1v2zM313 660v-15h1v15zM314 660v-5h1v5zM317 660v-5h1v5zM318 660v-5h1v5zM320 660v-9h1v9zM321 660v-4h1v4zM322 660v-2h1v2zM324 660v-2h1v2zM328 660v-5h1v5zM329 660v-5h1v5zM331 660v-12h1v12zM332 660v-7h1v7zM333 660v-3h1v3zM337 660v-7h1v7zM339 660v-5h1v5zM340 660v-5h1v5zM342 660v-3h1v3zM343 660v-7h1v7zM344 660v-3h1v3zM347 660v-5h1v5zM348 660v-6h1v6zM350 660v-2h1v2zM351 660v-4h1v4zM353 660v-7h1v7zM354 660v-2h1v2zM357 660v-4h1v4zM358 660v-7h1v7zM359 660v-6h1v6zM361 660v-10h1v10zM362 660v-2h1v2zM364 660v-9h1v9zM368 660v-6h1v6zM369 660v-3h1v3zM370 660v-9h1v9zM372 660v-6h1v6zM373 660v-3h1v3zM377 660v-30h1v30zM379 660v-4h1v4zM380 660v-5h1v5zM381 660v-4h1v4zM383 660v-8h1v8zM384 660v-2h1v2zM387 660v-10h1v10zM388 660v-5h1v5zM390 660v-2h1v2zM391 660v-6h1v6zM392 660v-4h1v4zM394 660v-10h1v10zM398 660v-4h1v4zM399 660v-10h1v10zM401 660v-6h1v6zM402 660v-18h1v18zM403 660v-18h1v18zM409 660v-9h1v9zM410 660v-7h1v7zM412 660v-12h1v12zM413 660v-27h1v27zM414 660v-9h1v9zM417 660v-7h1v7zM418 660v-10h1v10zM420 660v-9h1v9zM421 660v-10h1v10zM423 660v-9h1v9zM424 660v-12h1v12zM427 660v-16h1v16zM428 660v-7h1v7zM429 660v-10h1v10zM431 660v-13h1v13zM432 660v-17h1v17zM434 660v-19h1v19zM438 660v-41h1v41zM439 660v-11h1v11zM440 660v-13h1v13zM442 660v-13h1v13zM443 660v-15h1v15zM447 660v-9h1v9zM449 660v-13h1v13zM450 660v-17h1v17zM451 660v-17h1v17zM453 660v-10h1v10zM454 660v-9h1v9zM457 660v-10h1v10zM458 660v-11h1v11zM460 660v-24h1v24zM461 660v-10h1v10zM462 660v-13h1v13zM464 660v-10h1v10zM468 660v-8h1v8zM469 660v-5h1v5zM471 660v-2h1v2zM472 660v-7h1v7zM473 660v-5h1v5zM477 660v-8h1v8zM479 660v-5h1v5zM480 660v-7h1v7zM482 660v-2h1v2zM483 660v-7h1v7zM484 660v-3h1v3zM487 660v-3h1v3zM488 660v-6h1v6zM490 660v-7h1v7zM491 660v-10h1v10zM493 660v-3h1v3zM494 660v-3h1v3zM497 660v-5h1v5zM498 660v-3h1v3zM499 660v-5h1v5zM501 660v-5h1v5zM502 660v-5h1v5zM504 660v-7h1v7zM509 660v-4h1v4zM510 660v-3h1v3zM512 660v-6h1v6zM513 660v-5h1v5zM517 660v-4h1v4zM519 660v-5h1v5zM520 660v-6h1v6zM521 660v-3h1v3zM523 660v-4h1v4zM524 660v-5h1v5zM527 660v-7h1v7zM528 660v-11h1v11zM530 660v-9h1v9zM531 660v-9h1v9zM532 660v-4h1v4zM534 660v-7h1v7zM538 660v-8h1v8zM539 660v-5h1v5zM542 660v-9h1v9zM543 660v-6h1v6zM547 660v-6h1v6zM549 660v-6h1v6zM550 660v-8h1v8zM552 660v-11h1v11zM553 660v-16h1v16zM554 660v-5h1v5zM557 660v-8h1v8zM558 660v-4h1v4zM560 660v-10h1v10zM561 660v-4h1v4zM563 660v-6h1v6zM564 660v-11h1v11zM567 660v-11h1v11zM568 660v-8h1v8zM569 660v-6h1v6zM571 660v-11h1v11zM572 660v-3h1v3zM574 660v-3h1v3zM578 660v-5h1v5zM579 660v-6h1v6zM580 660v-6h1v6zM582 660v-7h1v7zM587 660v-8h1v8zM589 660v-5h1v5zM590 660v-4h1v4zM591 660v-7h1v7zM593 660v-7h1v7zM594 660v-4h1v4zM597 660v-3h1v3zM598 660v-6h1v6zM601 660v-5h1v5zM602 660v-6h1v6zM604 660v-8h1v8zM608 660v-4h1v4zM609 660v-4h1v4zM612 660v-7h1v7zM613 660v-6h1v6zM617 660v-6h1v6zM619 660v-4h1v4zM620 660v-11h1v11zM622 660v-6h1v6zM623 660v-11h1v11zM624 660v-9h1v9zM627 660v-6h1v6zM628 660v-11h1v11zM630 660v-9h1v9zM631 660v-8h1v8zM633 660v-7h1v7zM634 660v-3h1v3zM637 660v-5h1v5zM638 660v-3h1v3zM639 660v-7h1v7zM641 660v-7h1v7zM642 660v-11h1v11zM644 660v-5h1v5zM646 660v-23h1v23zM648 660v-7h1v7zM649 660v-3h1v3zM650 660v-5h1v5zM652 660v-6h1v6zM653 660v-5h1v5zM657 660v-9h1v9zM659 660v-6h1v6zM660 660v-11h1v11zM661 660v-6h1v6zM663 660v-3h1v3zM664 660v-5h1v5zM667 660v-3h1v3zM668 660v-7h1v7zM670 660v-9h1v9zM671 660v-5h1v5zM672 660v-3h1v3zM674 660v-6h1v6zM678 660v-7h1v7zM679 660v-5h1v5zM682 660v-6h1v6zM683 660v-10h1v10zM687 660v-8h1v8zM689 660v-7h1v7zM690 660v-9h1v9zM693 660v-4h1v4zM694 660v-1h1v1zM697 660v-9h1v9zM698 660v-6h1v6zM701 660v-5h1v5zM703 660v-8h1v8zM704 660v-7h1v7zM707 660v-8h1v8zM708 660v-9h1v9zM709 660v-4h1v4zM711 660v-8h1v8zM712 660v-10h1v10zM714 660v-3h1v3zM715 660v-16h1v16zM718 660v-6h1v6zM719 660v-17h1v17zM720 660v-6h1v6zM722 660v-7h1v7zM723 660v-6h1v6zM727 660v-12h1v12zM729 660v-6h1v6zM730 660v-6h1v6zM731 660v-13h1v13zM733 660v-7h1v7zM734 660v-5h1v5zM737 660v-7h1v7zM738 660v-13h1v13zM740 660v-5h1v5zM741 660v-4h1v4zM742 660v-9h1v9zM744 660v-9h1v9zM748 660v-6h1v6zM749 660v-10h1v10zM751 660v-6h1v6zM752 660v-14h1v14zM753 660v-8h1v8zM757 660v-14h1v14zM759 660v-15h1v15zM760 660v-11h1v11zM762 660v-6h1v6zM763 660v-8h1v8zM764 660v-5h1v5zM767 660v-3h1v3zM768 660v-6h1v6zM770 660v-6h1v6zM771 660v-6h1v6zM773 660v-6h1v6zM774 660v-10h1v10zM777 660v-14h1v14zM778 660v-6h1v6zM779 660v-14h1v14zM781 660v-7h1v7zM782 660v-4h1v4zM784 660v-7h1v7zM788 660v-18h1v18zM789 660v-9h1v9zM790 660v-13h1v13zM792 660v-20h1v20zM793 660v-6h1v6zM796 660v-17h1v17zM797 660v-15h1v15zM799 660v-7h1v7zM800 660v-6h1v6zM801 660v-12h1v12zM803 660v-9h1v9zM804 660v-8h1v8zM807 660v-6h1v6zM808 660v-8h1v8zM810 660v-6h1v6zM811 660v-25h1v25zM812 660v-5h1v5zM814 660v-9h1v9zM818 660v-11h1v11zM819 660v-6h1v6zM822 660v-15h1v15zM823 660v-13h1v13zM827 660v-7h1v7zM829 660v-8h1v8zM830 660v-16h1v16zM832 660v-4h1v4zM833 660v-4h1v4zM834 660v-6h1v6zM837 660v-9h1v9zM838 660v-4h1v4zM840 660v-11h1v11zM841 660v-12h1v12zM843 660v-10h1v10zM844 660v-3h1v3zM847 660v-20h1v20zM848 660v-3h1v3zM849 660v-10h1v10zM851 660v-6h1v6zM852 660v-9h1v9zM854 660v-7h1v7zM858 660v-9h1v9zM859 660v-4h1v4zM860 660v-10h1v10zM862 660v-9h1v9zM863 660v-6h1v6zM867 660v-4h1v4zM869 660v-10h1v10zM870 660v-8h1v8zM871 660v-7h1v7zM873 660v-6h1v6zM874 660v-7h1v7zM877 660v-42h1v42zM878 660v-12h1v12zM880 660v-10h1v10zM881 660v-10h1v10zM882 660v-9h1v9zM884 660v-4h1v4zM888 660v-9h1v9zM889 660v-12h1v12zM891 660v-12h1v12zM892 660v-9h1v9zM893 660v-8h1v8zM897 660v-9h1v9zM899 660v-9h1v9zM900 660v-9h1v9zM902 660v-3h1v3zM903 660v-4h1v4zM904 660v-18h1v18zM907 660v-12h1v12zM908 660v-12h1v12zM910 660v-13h1v13zM911 660v-9h1v9zM913 660v-12h1v12zM914 660v-10h1v10zM917 660v-9h1v9zM918 660v-13h1v13zM919 660v-9h1v9zM921 660v-10h1v10zM922 660v-18h1v18zM926 660v-50h1v50zM928 660v-13h1v13zM929 660v-7h1v7zM930 660v-7h1v7zM932 660v-6h1v6zM933 660v-18h1v18zM937 660v-17h1v17zM939 660v-40h1v40zM940 660v-8h1v8zM941 660v-10h1v10zM943 660v-11h1v11zM944 660v-5h1v5zM947 660v-7h1v7zM948 660v-10h1v10zM950 660v-10h1v10zM951 660v-7h1v7zM952 660v-9h1v9zM954 660v-12h1v12zM958 660v-14h1v14zM959 660v-18h1v18zM961 660v-8h1v8zM962 660v-7h1v7zM963 660v-19h1v19zM967 660v-14h1v14zM969 660v-6h1v6zM972 660v-19h1v19zM973 660v-7h1v7zM974 660v-8h1v8zM977 660v-8h1v8zM978 660v-20h1v20zM980 660v-12h1v12zM981 660v-12h1v12zM983 660v-13h1v13zM987 660v-10h1v10zM989 660v-6h1v6zM991 660v-12h1v12zM994 660v-15h1v15zM999 660v-11h1v11zM1002 660v-24h1v24zM1003 660v-15h1v15zM1004 660v-19h1v19zM1006 660v-18h1v18zM1007 660v-12h1v12zM1009 660v-13h1v13zM1014 660v-14h1v14zM1015 660v-12h1v12zM1017 660v-11h1v11zM1018 660v-9h1v9zM1022 660v-21h1v21zM1024 660v-25h1v25zM1025 660v-15h1v15zM1026 660v-9h1v9zM1028 660v-26h1v26zM1029 660v-12h1v12zM1032 660v-18h1v18zM1033 660v-8h1v8zM1035 660v-20h1v20zM1036 660v-10h1v10zM1037 660v-74h1v74zM1039 660v-105h1v105zM1043 660v-17h1v17zM1044 660v-36h1v36zM1046 660v-91h1v91zM1047 660v-24h1v24zM1048 660v-20h1v20zM1052 660v-11h1v11zM1054 660v-12h1v12zM1055 660v-15h1v15zM1057 660v-7h1v7zM1058 660v-8h1v8zM1061 660v-10h1v10zM1062 660v-8h1v8zM1063 660v-10h1v10zM1065 660v-6h1v6zM1066 660v-8h1v8zM1068 660v-9h1v9zM1072 660v-13h1v13zM1073 660v-9h1v9zM1074 660v-13h1v13zM1076 660v-10h1v10zM1081 660v-12h1v12zM1083 660v-7h1v7zM1084 660v-37h1v37zM1087 660v-9h1v9zM1088 660v-12h1v12zM1091 660v-8h1v8zM1092 660v-7h1v7zM1094 660v-12h1v12zM1095 660v-19h1v19zM1096 660v-19h1v19zM1100 660v-34h1v34zM1102 660v-37h1v37zM1103 660v-35h1v35zM1105 660v-23h1v23zM1106 660v-37h1v37zM1107 660v-30h1v30zM1110 660v-61h1v61zM1111 660v-28h1v28zM1113 660v-47h1v47zM1114 660v-48h1v48zM1117 660v-41h1v41zM1120 660v-56h1v56zM1121 660v-102h1v102z" fill="#bdbdbd" shape-rendering="crispEdges"/>
<line x1="219.5" y1="500.5" x2="219.5" y2="659.5" stroke="#b0b0b0" stroke-width="1" shape-rendering="crispEdges"/>
<line x1="411.5" y1="500.5" x2="411.5" y2="659.5" stroke="#b0b0b0" stroke-width="1" shape-rendering="crispEdges"/>
<line x1="603.5" y1="500.5" x2="603.5" y2="659.5" stroke="#b0b0b0" stroke-width="1" shape-rendering="crispEdges"/>
<line x1="796.5" y1="500.5" x2="796.5" y2="659.5" stroke="#b0b0b0" stroke-width="1" shape-rendering="crispEdges"/>
<line x1="988.5" y1="500.5" x2="988.5" y2="659.5" stroke="#b0b0b0" stroke-width="1" shape-rendering="crispEdges"/>
<line x1="86.5" y1="523.5" x2="1171.5" y2="523.5" stroke="#b0b0b0" stroke-width="1" shape-rendering="crispEdges"/>
<line x1="86.5" y1="568.5" x2="1171.5" y2="568.5" stroke="#b0b0b0" stroke-width="1" shape-rendering="crispEdges"/>
<line x1="86.5" y1="614.5" x2="1171.5" y2="614.5" stroke="#b0b0b0" stroke-width="1" shape-rendering="crispEdges"/>
</g>
<rect x="86.5" y="500.5" width="1085.0" height="159.0" fill="none" stroke="#000" stroke-width="1.1"/>
<line x1="219.5" y1="659.5" x2="219.5" y2="664.4" stroke="#000" stroke-width="1.1"/>
<text x="219.0" y="679.0" font-size="12.40" text-anchor="middle" fill="#000" textLength="52.4" lengthAdjust="spacingAndGlyphs">2021-01</text>
<line x1="411.5" y1="659.5" x2="411.5" y2="664.4" stroke="#000" stroke-width="1.1"/>
<text x="411.0" y="679.0" font-size="12.40" text-anchor="middle" fill="#000" textLength="52.4" lengthAdjust="spacingAndGlyphs">2022-01</text>
<line x1="603.5" y1="659.5" x2="603.5" y2="664.4" stroke="#000" stroke-width="1.1"/>
<text x="603.0" y="679.0" font-size="12.40" text-anchor="middle" fill="#000" textLength="52.4" lengthAdjust="spacingAndGlyphs">2023-01</text>
<line x1="796.5" y1="659.5" x2="796.5" y2="664.4" stroke="#000" stroke-width="1.1"/>
<text x="796.0" y="679.0" font-size="12.40" text-anchor="middle" fill="#000" textLength="52.4" lengthAdjust="spacingAndGlyphs">2024-01</text>
<line x1="988.5" y1="659.5" x2="988.5" y2="664.4" stroke="#000" stroke-width="1.1"/>
<text x="988.0" y="679.0" font-size="12.40" text-anchor="middle" fill="#000" textLength="52.4" lengthAdjust="spacingAndGlyphs">2025-01</text>
<line x1="81.6" y1="523.5" x2="86.5" y2="523.5" stroke="#000" stroke-width="1.1"/>
<text x="75.6" y="528.4" font-size="12.40" text-anchor="end" fill="#000" textLength="48.4" lengthAdjust="spacingAndGlyphs">300000</text>
<line x1="81.6" y1="568.5" x2="86.5" y2="568.5" stroke="#000" stroke-width="1.1"/>
<text x="75.6" y="573.4" font-size="12.40" text-anchor="end" fill="#000" textLength="48.4" lengthAdjust="spacingAndGlyphs">200000</text>
<line x1="81.6" y1="614.5" x2="86.5" y2="614.5" stroke="#000" stroke-width="1.1"/>
<text x="75.6" y="619.4" font-size="12.40" text-anchor="end" fill="#000" textLength="48.4" lengthAdjust="spacingAndGlyphs">100000</text>
<line x1="81.6" y1="659.5" x2="86.5" y2="659.5" stroke="#000" stroke-width="1.1"/>
<text x="75.6" y="664.8" font-size="12.40" text-anchor="end" fill="#000" textLength="8.2" lengthAdjust="spacingAndGlyphs">0</text>
<text transform="translate(18.8 582.2) rotate(-90)" font-size="12.4" text-anchor="middle" textLength="43.5" lengthAdjust="spacingAndGlyphs">Volume</text>
<text y="716.7" font-size="16.00"><tspan x="85.8" textLength="27.0" lengthAdjust="spacingAndGlyphs">VTV</tspan><tspan x="112.8" textLength="5.0" lengthAdjust="spacingAndGlyphs"> </tspan><tspan x="117.6" textLength="66.0" lengthAdjust="spacingAndGlyphs">交易次数</tspan><tspan x="184.0" textLength="5.0" lengthAdjust="spacingAndGlyphs">:</tspan><tspan x="189.0" textLength="5.0" lengthAdjust="spacingAndGlyphs"> </tspan><tspan x="194.2" textLength="10.2" lengthAdjust="spacingAndGlyphs">3</tspan></text>
<text y="736.5" font-size="16.00"><tspan x="86.2" textLength="99.4" lengthAdjust="spacingAndGlyphs">策略总收益率</tspan><tspan x="186.0" textLength="5.0" lengthAdjust="spacingAndGlyphs">:</tspan><tspan x="191.0" textLength="5.0" lengthAdjust="spacingAndGlyphs"> </tspan><tspan x="196.0" textLength="66.2" lengthAdjust="spacingAndGlyphs">101.59%</tspan></text>
<text y="755.9" font-size="16.00"><tspan x="86.2" textLength="99.4" lengthAdjust="spacingAndGlyphs">长期持有收益</tspan><tspan x="186.0" textLength="5.0" lengthAdjust="spacingAndGlyphs">:</tspan><tspan x="191.0" textLength="5.0" lengthAdjust="spacingAndGlyphs"> </tspan><tspan x="196.0" textLength="56.4" lengthAdjust="spacingAndGlyphs">94.70%</tspan></text>
<text y="775.4" font-size="16.00"><tspan x="86.2" textLength="64.8" lengthAdjust="spacingAndGlyphs">交易记录</tspan><tspan x="151.3" textLength="5.0" lengthAdjust="spacingAndGlyphs">:</tspan></text>
<text y="792.7" font-size="16.00"><tspan x="86.0" textLength="10.0" lengthAdjust="spacingAndGlyphs">  </tspan><tspan x="96.0" textLength="65.0" lengthAdjust="spacingAndGlyphs">Buy Date</tspan><tspan x="161.0" textLength="11.0" lengthAdjust="spacingAndGlyphs">  </tspan><tspan x="171.6" textLength="66.8" lengthAdjust="spacingAndGlyphs">Buy Price</tspan><tspan x="238.5" textLength="10.0" lengthAdjust="spacingAndGlyphs">  </tspan><tspan x="248.8" textLength="66.3" lengthAdjust="spacingAndGlyphs">Sell Date</tspan><tspan x="315.0" textLength="10.0" lengthAdjust="spacingAndGlyphs">  </tspan><tspan x="325.5" textLength="67.2" lengthAdjust="spacingAndGlyphs">Sell Price</tspan><tspan x="393.0" textLength="10.0" lengthAdjust="spacingAndGlyphs">  </tspan><tspan x="403.0" textLength="95.0" lengthAdjust="spacingAndGlyphs">Holding Days</tspan><tspan x="498.0" textLength="10.0" lengthAdjust="spacingAndGlyphs">  </tspan><tspan x="508.0" textLength="54.5" lengthAdjust="spacingAndGlyphs">Profit %</tspan></text>
<text y="809.4" font-size="16.00"><tspan x="86.2" textLength="88.8" lengthAdjust="spacingAndGlyphs">2020-10-26</tspan><tspan x="175.0" textLength="30.0" lengthAdjust="spacingAndGlyphs">      </tspan><tspan x="205.6" textLength="44.8" lengthAdjust="spacingAndGlyphs">94.41</tspan><tspan x="250.5" textLength="5.0" lengthAdjust="spacingAndGlyphs"> </tspan><tspan x="255.5" textLength="89.4" lengthAdjust="spacingAndGlyphs">2021-06-14</tspan><tspan x="345.0" textLength="30.0" lengthAdjust="spacingAndGlyphs">      </tspan><tspan x="375.4" textLength="54.8" lengthAdjust="spacingAndGlyphs">125.72</tspan><tspan x="431.0" textLength="55.0" lengthAdjust="spacingAndGlyphs">          </tspan><tspan x="485.8" textLength="29.2" lengthAdjust="spacingAndGlyphs">231</tspan><tspan x="515.0" textLength="25.0" lengthAdjust="spacingAndGlyphs">     </tspan><tspan x="540.2" textLength="44.8" lengthAdjust="spacingAndGlyphs">33.16</tspan></text>
<text y="827.2" font-size="16.00"><tspan x="86.2" textLength="88.8" lengthAdjust="spacingAndGlyphs">2021-06-17</tspan><tspan x="175.0" textLength="25.0" lengthAdjust="spacingAndGlyphs">     </tspan><tspan x="200.5" textLength="54.6" lengthAdjust="spacingAndGlyphs">123.57</tspan><tspan x="255.2" textLength="5.0" lengthAdjust="spacingAndGlyphs"> </tspan><tspan x="260.2" textLength="90.0" lengthAdjust="spacingAndGlyphs">2024-04-10</tspan><tspan x="351.0" textLength="30.0" lengthAdjust="spacingAndGlyphs">      </tspan><tspan x="380.4" textLength="54.8" lengthAdjust="spacingAndGlyphs">154.49</tspan><tspan x="436.0" textLength="50.0" lengthAdjust="spacingAndGlyphs">          </tspan><tspan x="485.8" textLength="39.0" lengthAdjust="spacingAndGlyphs">1028</tspan><tspan x="525.0" textLength="25.0" lengthAdjust="spacingAndGlyphs">     </tspan><tspan x="549.8" textLength="44.8" lengthAdjust="spacingAndGlyphs">25.02</tspan></text>
<text y="844.3" font-size="16.00"><tspan x="86.2" textLength="88.8" lengthAdjust="spacingAndGlyphs">2024-04-12</tspan><tspan x="175.0" textLength="25.0" lengthAdjust="spacingAndGlyphs">     </tspan><tspan x="200.5" textLength="55.2" lengthAdjust="spacingAndGlyphs">151.80</tspan><tspan x="255.8" textLength="4.5" lengthAdjust="spacingAndGlyphs"> </tspan><tspan x="260.2" textLength="90.0" lengthAdjust="spacingAndGlyphs">2025-09-10</tspan><tspan x="351.0" textLength="30.0" lengthAdjust="spacingAndGlyphs">      </tspan><tspan x="380.4" textLength="54.8" lengthAdjust="spacingAndGlyphs">183.82</tspan><tspan x="436.0" textLength="54.0" lengthAdjust="spacingAndGlyphs">           </tspan><tspan x="490.4" textLength="29.4" lengthAdjust="spacingAndGlyphs">516</tspan><tspan x="520.0" textLength="25.0" lengthAdjust="spacingAndGlyphs">     </tspan><tspan x="545.4" textLength="44.6" lengthAdjust="spacingAndGlyphs">21.09</tspan></text>
</svg></body></html>
